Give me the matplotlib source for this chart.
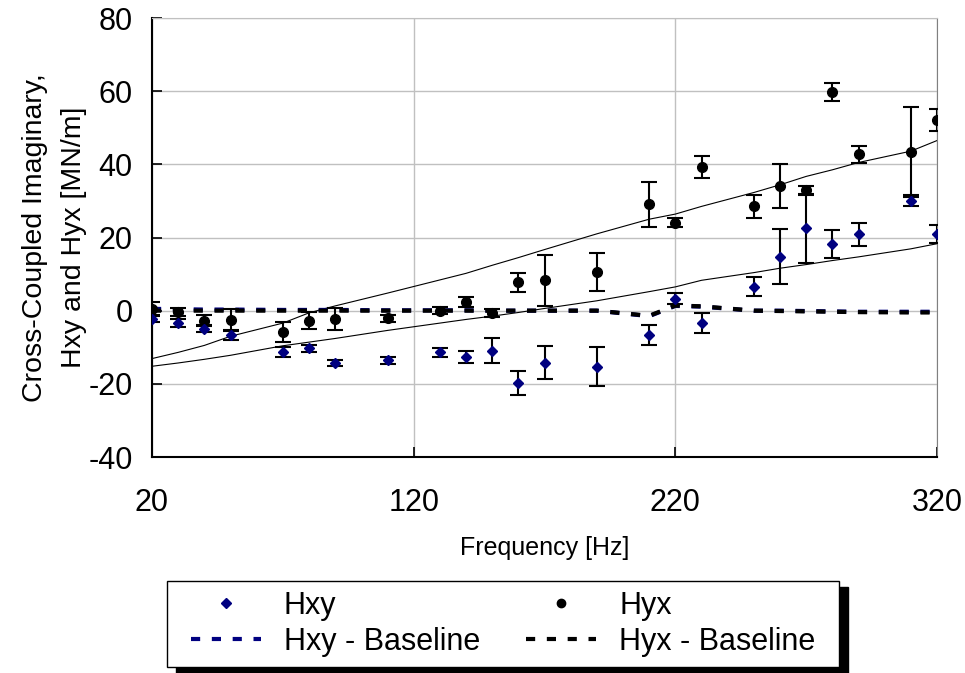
import matplotlib
matplotlib.use("Agg")
import matplotlib.pyplot as plt
from matplotlib.lines import Line2D
from matplotlib.patches import Rectangle

plt.rcParams["font.family"] = ["Liberation Sans", "DejaVu Sans"]
plt.rcParams["axes.unicode_minus"] = False

# measured frequencies
freq = [20, 30, 40, 50, 70, 80, 90, 110, 130, 140, 150, 160, 170, 190,
        210, 220, 230, 250, 260, 270, 280, 290, 310, 320]

hxy = [-2.2, -3.4, -4.9, -6.6, -11.4, -10.3, -14.2, -13.6, -11.4, -12.6, -10.9, -19.7,
       -14.2, -15.3, -6.6, 3.3, -3.3, 6.6, 14.8, 22.5, 18.2, 20.9, 30.1, 20.9]
hxy_err = [0.8, 1.0, 1.0, 1.3, 1.4, 1.0, 0.8, 1.0, 1.3, 1.6, 3.5, 3.3,
           4.6, 5.4, 2.7, 1.5, 2.7, 2.7, 7.4, 9.4, 3.8, 3.2, 1.5, 2.4]

hyx = [0.5, -0.4, -2.7, -2.6, -5.9, -2.7, -2.2, -2.1, 0.0, 2.4, -0.6, 7.7,
       8.3, 10.5, 29.1, 24.1, 39.4, 28.5, 34.0, 32.9, 59.7, 42.7, 43.3, 52.0]
hyx_err = [1.8, 1.0, 1.5, 3.0, 2.7, 2.2, 3.0, 1.0, 1.0, 1.4, 1.0, 2.5,
           7.0, 5.2, 6.2, 1.2, 3.0, 3.1, 6.0, 1.3, 2.5, 2.2, 12.3, 3.0]

# thin reference curves
upper_line = [-13.1, -11.4, -9.5, -7.0, -3.4, -0.6, 1.3, 4.8, 8.4, 10.2, 12.4, 14.5,
              16.7, 21.0, 25.0, 26.4, 28.5, 32.3, 34.4, 36.7, 38.5, 40.5, 43.6, 46.5]
lower_line = [-15.2, -14.3, -13.3, -12.2, -9.6, -8.6, -7.6, -5.4, -3.4, -2.4, -1.5, -0.5,
              0.6, 2.7, 5.2, 6.5, 8.3, 10.4, 11.6, 12.6, 13.7, 14.7, 16.9, 18.3]

# baselines
hxy_base = [0.5, 0.4, 0.3, 0.3, 0.2, 0.2, 0.2, 0.1, 0.1, 0.1, 0.0, 0.0,
            0.0, 0.0, -1.5, 1.3, 1.1, 0.0, 0.0, -0.1, -0.2, -0.3, -0.3, -0.3]
hyx_base = [0.0, 0.0, 0.0, 0.0, 0.0, 0.0, 0.0, 0.0, 0.0, 0.0, 0.0, 0.0,
            0.0, 0.0, -1.4, 1.4, 1.2, 0.0, -0.1, -0.2, -0.3, -0.4, -0.5, -0.5]

navy = "#000080"

fig = plt.figure(figsize=(9.65, 6.73), dpi=100)
ax = fig.add_axes([152 / 965, 1 - 457 / 673, 785 / 965, 439 / 673])

ax.plot(freq, upper_line, color="black", lw=0.8, zorder=2)
ax.plot(freq, lower_line, color="black", lw=0.8, zorder=2)

ax.plot(freq, hxy_base, color=navy, lw=3, dashes=(2.2, 2.8), zorder=3)
ax.plot(freq, hyx_base, color="black", lw=3, dashes=(2.2, 2.8), zorder=3)

ax.errorbar(freq, hyx, yerr=hyx_err, fmt="o", color="black", ms=7,
            ecolor="black", elinewidth=1.5, capsize=6, capthick=1.5, zorder=4)
ax.errorbar(freq, hxy, yerr=hxy_err, fmt="D", color=navy, mec=navy, ms=5,
            ecolor="black", elinewidth=1.5, capsize=6, capthick=1.5, zorder=5)

ax.set_xlim(20, 320)
ax.set_ylim(-40, 80)
ax.set_xticks([20, 120, 220, 320])
ax.set_yticks(range(-40, 81, 20))
ax.grid(True, color="#c0c0c0", lw=1)
ax.set_axisbelow(True)

for s in ["left", "bottom"]:
    ax.spines[s].set_linewidth(1.5)
    ax.spines[s].set_color("black")
ax.spines["top"].set_color("#c0c0c0")
ax.spines["right"].set_color("#808080")

ax.tick_params(axis="both", direction="in", length=7, width=1.2, labelsize=22)
ax.tick_params(axis="y", pad=14)
ax.tick_params(axis="x", pad=22)

ax.set_xlabel("Frequency [Hz]", fontsize=18, labelpad=13)
ax.set_ylabel("Cross-Coupled Imaginary,\nHxy and Hyx [MN/m]", fontsize=20.5,
              labelpad=1, linespacing=1.65)

handles = [
    Line2D([], [], ls="none", marker="D", color=navy, ms=5),
    Line2D([], [], color=navy, lw=3, dashes=(2.2, 2.8)),
    Line2D([], [], ls="none", marker="o", color="black", ms=6),
    Line2D([], [], color="black", lw=3, dashes=(2.2, 2.8)),
]
labels = ["Hxy", "Hxy - Baseline", "Hyx", "Hyx - Baseline"]
leg = fig.legend(handles, labels, ncol=2, loc="center",
                 bbox_to_anchor=(503 / 965, 1 - 624 / 673),
                 fontsize=22, frameon=False,
                 handlelength=2.3, handletextpad=0.75, columnspacing=1.5,
                 borderaxespad=0, labelspacing=0.2, borderpad=0.35)
leg.set_zorder(6)

# legend frame with a solid drop shadow
fig.canvas.draw()
bb = leg.get_window_extent()
W, H = fig.bbox.width, fig.bbox.height
x0, y0 = bb.x0 - 13, bb.y0 + 1
w, h = bb.width + 26, bb.height - 2
shadow = Rectangle(((x0 + 9) / W, (y0 - 6) / H), w / W, h / H,
                   transform=fig.transFigure, color="black", zorder=4)
frame = Rectangle((x0 / W, y0 / H), w / W, h / H, transform=fig.transFigure,
                  facecolor="white", edgecolor="black", lw=1.0, zorder=5)
fig.patches.extend([shadow, frame])

fig.savefig("out.png", dpi=100)
